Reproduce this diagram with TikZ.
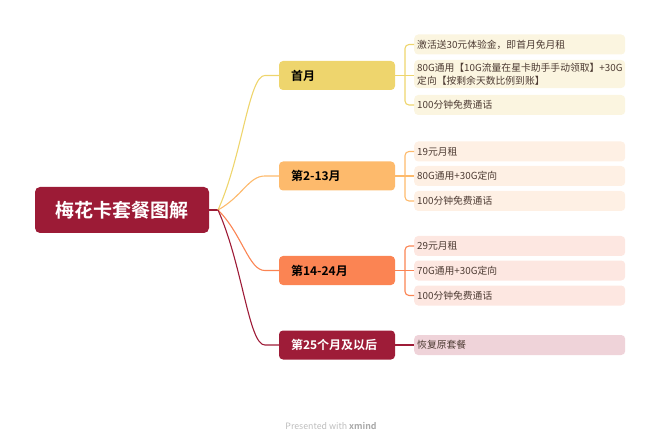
\documentclass[tikz,border=0pt]{standalone}
\usepackage{fontspec}
\setmainfont{Noto Sans CJK SC}[BoldFont={Noto Sans CJK SC Bold}]
\usepackage{tikz}
\usetikzlibrary{calc}

\definecolor{rootred}{HTML}{9C1B36}
\definecolor{cone}{HTML}{EED56D}
\definecolor{ctwo}{HTML}{FDBA6C}
\definecolor{cthree}{HTML}{FB8453}
\definecolor{cfour}{HTML}{9E1C38}
\definecolor{fone}{HTML}{FBF5E0}
\definecolor{ftwo}{HTML}{FEF0E4}
\definecolor{fthree}{HTML}{FDE7E1}
\definecolor{ffour}{HTML}{EFD3D9}
\definecolor{leaftext}{HTML}{4D3B33}

\begin{document}
\begin{tikzpicture}[x=1pt,y=-1pt,
    rootbox/.style={fill=rootred,rounded corners=5pt,minimum width=174pt,minimum height=46pt,
        text=white,font=\fontsize{19}{22}\selectfont\bfseries},
    branchbox/.style={rounded corners=4pt,minimum height=29pt,inner xsep=12pt,text width=92pt,
        align=left,font=\fontsize{12}{14}\selectfont\bfseries},
    leafbox/.style={rounded corners=4pt,minimum height=20pt,inner xsep=3pt,inner ysep=3pt,text width=205pt,
        align=left,anchor=west,text=leaftext,font=\fontsize{9.8}{13}\selectfont},
    link/.style={line width=1.1pt,line join=round}]
        \useasboundingbox (0,0) rectangle (660,443);
        \node[rootbox] (root) at (122,210) {梅花卡套餐图解};
        \coordinate (J) at (218,210);
        % branches
        \node[branchbox,fill=cone] (b1) at (337,75.5) {首月};
        \node[branchbox,fill=ctwo] (b2) at (337,176) {第2-13月};
        \node[branchbox,fill=cthree] (b3) at (337,270.5) {第14-24月};
        \node[branchbox,fill=cfour,text=white] (b4) at (337,345) {第25个月及以后};
        % leaves
        \node[leafbox,fill=fone] (l11) at (414,44.5) {激活送30元体验金，即首月免月租};
        \node[leafbox,fill=fone] (l12) at (414,74) {80G通用【10G流量在星卡助手手动领取】+30G\\定向【按剩余天数比例到账】};
        \node[leafbox,fill=fone] (l13) at (414,105) {100分钟免费通话};
        \node[leafbox,fill=ftwo] (l21) at (414,151.5) {19元月租};
        \node[leafbox,fill=ftwo] (l22) at (414,176) {80G通用+30G定向};
        \node[leafbox,fill=ftwo] (l23) at (414,201) {100分钟免费通话};
        \node[leafbox,fill=fthree] (l31) at (414,246) {29元月租};
        \node[leafbox,fill=fthree] (l32) at (414,270.5) {70G通用+30G定向};
        \node[leafbox,fill=fthree] (l33) at (414,295.5) {100分钟免费通话};
        \node[leafbox,fill=ffour] (l41) at (414,345) {恢复原套餐};
        % root to branches
        \draw[link,rootred] (root.east) -- (J);
        \foreach \b/\c in {b1/cone,b2/ctwo,b3/cthree,b4/cfour}
            \draw[link,\c] (J) .. controls ($(J)!0.4!(\b.west)$) and ([xshift=-30pt]\b.west) .. ([xshift=-14pt]\b.west) -- (\b.west);
        % branches to leaves
        \foreach \g/\c in {1/cone,2/ctwo,3/cthree} {
            \draw[link,\c] (b\g.east) -- (b\g.east -| l\g2.west);
            \draw[link,\c,rounded corners=4pt] (l\g1.west) -- ++(-9,0) |- (l\g3.west);
        }
        \draw[link,cfour] (b4.east) -- (l41.west);
        \node[font=\fontsize{8.8}{10}\selectfont] (credit) at (331,426)
            {\textcolor[HTML]{BDBDBD}{Presented with} \textcolor[HTML]{A8A8A8}{\bfseries xmind}};
\end{tikzpicture}
\end{document}
